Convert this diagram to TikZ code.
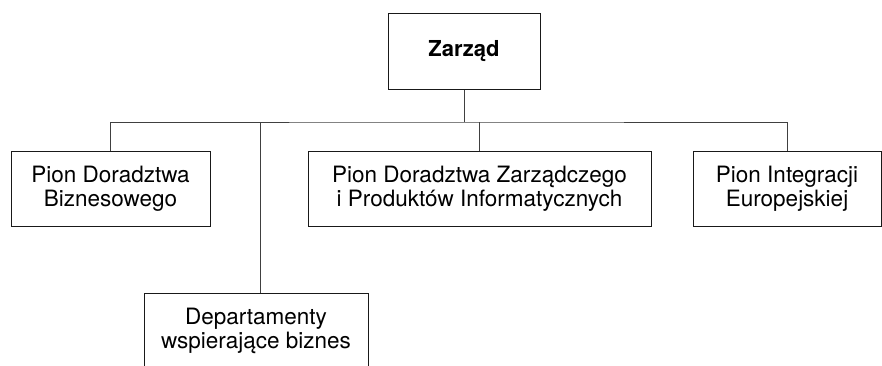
\documentclass[tikz,border=0pt]{standalone}
\usepackage{fontspec}
\setmainfont{TeX Gyre Heros}
\usepackage{tikz}

\tikzset{
  unit/.style={draw=black!90, line width=1pt, align=center, inner sep=0pt,
    minimum height=75pt, font=\fontsize{22.5}{24}\selectfont},
  link/.style={draw=black!75, line width=0.8pt}
}

\begin{document}
\begin{tikzpicture}[x=1pt,y=-1pt]
    \useasboundingbox (0,0) rectangle (882,365);
    \node[unit, minimum width=152pt, minimum height=76pt, font=\fontsize{22}{26}\selectfont\bfseries] (zarzad) at (464,51) {Zarząd};
    \node[unit, minimum width=199pt] (biznes) at (110.5,189) {Pion Doradztwa\\Biznesowego};
    \node[unit, minimum width=343pt] (informatyka) at (479.5,188.5) {Pion Doradztwa Zarządczego\\i Produktów Informatycznych};
    \node[unit, minimum width=188pt] (europa) at (787,188.5) {Pion Integracji\\Europejskiej};
    \node[unit, minimum width=224pt] (wsparcie) at (256,330.5) {Departamenty\\wspierające biznes};
    \coordinate (szyna) at (464,122);
    \draw[link] (zarzad.south) -- (szyna);
    \draw[link] (biznes.north) |- (szyna) -| (europa.north);
    \draw[link] (informatyka.north) -- (informatyka.north |- szyna);
    \draw[link] ([xshift=4pt]wsparcie.north) -- ([xshift=4pt]wsparcie.north |- szyna);
  \end{tikzpicture}
\end{document}
